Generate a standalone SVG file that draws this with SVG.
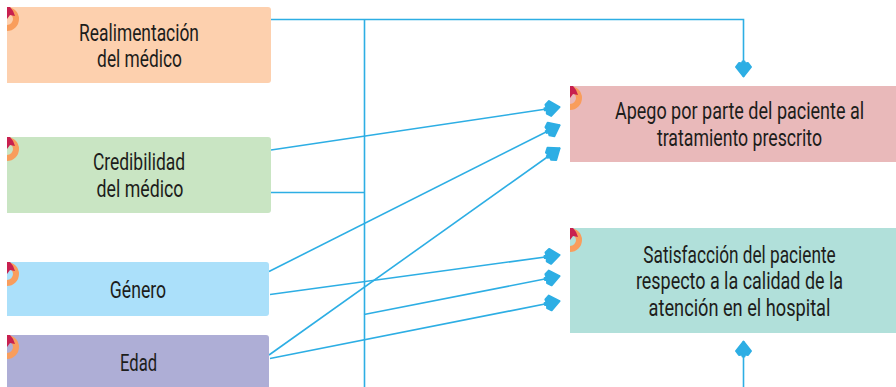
<svg xmlns="http://www.w3.org/2000/svg" width="896" height="387" viewBox="0 0 896 387">
<style>
.t{font-family:Roboto,"Liberation Sans",sans-serif;font-size:24px;fill:#1d1d1b;text-anchor:middle}
.c{fill:none;stroke:#2daee4;stroke-width:1.6}
.o{fill:none;stroke:#f99d5c;stroke-width:6}
.r{fill:#c8204f}
</style>
<defs>
<marker id="a" markerUnits="userSpaceOnUse" markerWidth="24" markerHeight="24" refX="20" refY="12" orient="auto" overflow="visible">
<path d="M19.500 12L10 4.500L6 7.500L6.500 11H4.500V13H6.500L6 16.500L10 19.500Z" fill="#2daee4" stroke="#2daee4" stroke-width="2" stroke-linejoin="round"/>
</marker>
<g id="badge"><path class="o" d="M0 3A9 9 0 0 1 0 21"/><path class="r" d="M0 0H3Q7 4 8 9L3 8L0 12Z"/></g>
</defs>
<g id="connectors">
<path class="c" marker-end="url(#a)" d="M271 19.500H743.500V77"/>
<path class="c" d="M364.500 19V387M271 192.500H364"/>
<path class="c" marker-end="url(#a)" d="M271 150L560 107"/>
<path class="c" marker-end="url(#a)" d="M269 271.500L560 125"/>
<path class="c" marker-end="url(#a)" d="M270 294.500L560 255"/>
<path class="c" marker-end="url(#a)" d="M269 355L560 148"/>
<path class="c" marker-end="url(#a)" d="M270 358.500L560 301"/>
<path class="c" marker-end="url(#a)" d="M364 314.500L560 276"/>
<path class="c" marker-end="url(#a)" d="M743.500 387V341"/>
</g>
<g id="n1"><path d="M7 7H268a3 3 0 0 1 3 3V80a3 3 0 0 1-3 3H7Z" fill="#fdd0ae"/><use href="#badge" x="7" y="7"/><text class="t" transform="translate(139 41) scale(.725 1)">Realimentación</text><text class="t" transform="translate(139.500 67) scale(.722 1)">del médico</text></g>
<g id="n2"><path d="M7 137H268a3 3 0 0 1 3 3V210a3 3 0 0 1-3 3H7Z" fill="#c9e5c3"/><use href="#badge" x="7" y="137"/><text class="t" transform="translate(139 170) scale(.728 1)">Credibilidad</text><text class="t" transform="translate(140 197) scale(.739 1)">del médico</text></g>
<g id="n3"><path d="M7 262H266a3 3 0 0 1 3 3V313a3 3 0 0 1-3 3H7Z" fill="#abe0fa"/><use href="#badge" x="7" y="262"/><text class="t" transform="translate(138 298) scale(.735 1)">Género</text></g>
<g id="n4"><path d="M7 335H266a3 3 0 0 1 3 3V388H7Z" fill="#aeaed6"/><use href="#badge" x="7" y="335"/><text class="t" transform="translate(138.500 371) scale(.693 1)">Edad</text></g>
<g id="n5"><rect x="570" y="86" width="326" height="76" fill="#e9b9ba"/><use href="#badge" x="570" y="86"/><text class="t" transform="translate(739.500 119) scale(.75 1)">Apego por parte del paciente al</text><text class="t" transform="translate(739.500 146) scale(.738 1)">tratamiento prescrito</text></g>
<g id="n6"><rect x="570" y="228" width="326" height="105" fill="#b1e0da"/><use href="#badge" x="570" y="228"/><text class="t" transform="translate(739.500 263) scale(.718 1)">Satisfacción del paciente</text><text class="t" transform="translate(739.500 289) scale(.747 1)">respecto a la calidad de la</text><text class="t" transform="translate(739.500 316) scale(.758 1)">atención en el hospital</text></g>
</svg>
